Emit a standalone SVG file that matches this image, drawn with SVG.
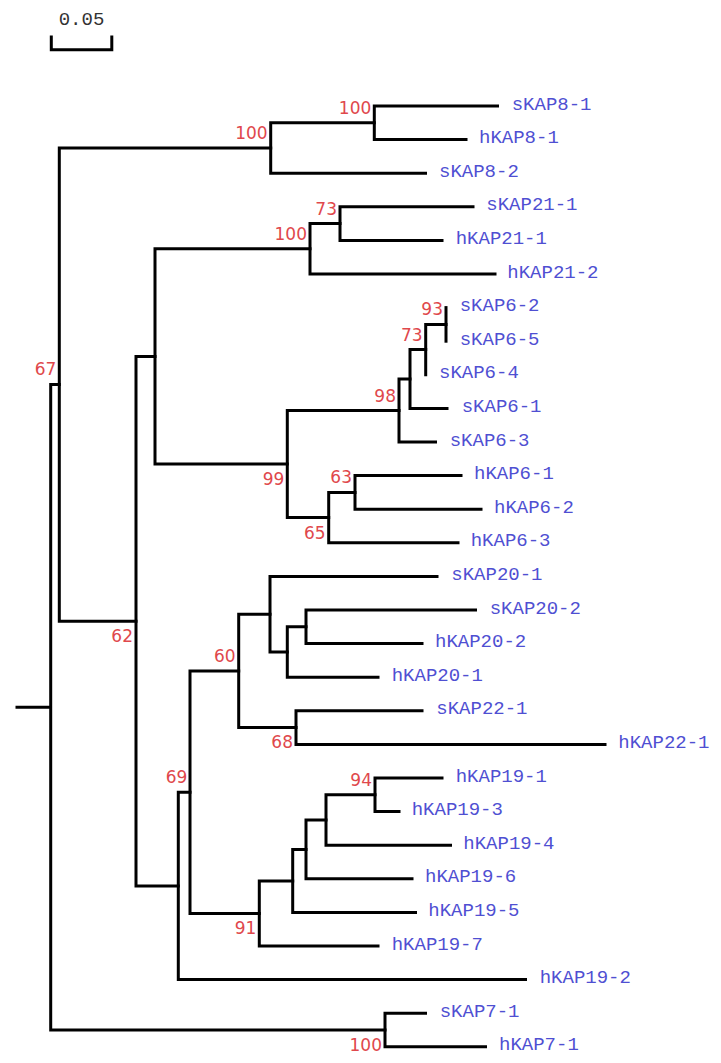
<svg xmlns="http://www.w3.org/2000/svg" width="721" height="1063" viewBox="0 0 721 1063">
<style>
.br{fill:none;stroke:#000;stroke-width:3;stroke-linecap:square;stroke-linejoin:miter}
.leaf{font-family:"Liberation Mono","Courier New",monospace;font-size:19px;fill:#4f4fd2}
.bs{font-family:"DejaVu Sans","Liberation Sans",sans-serif;font-size:17px;fill:#e0484c;text-anchor:end}
.scale{font-family:"Liberation Mono","Courier New",monospace;font-size:19px;fill:#333;text-anchor:middle}
</style>
<rect width="721" height="1063" fill="#fff"/>
<g id="scalebar">
<path class="br" d="M51.3 37V49.7H111.8V37"/>
<text class="scale" x="81.5" y="25">0.05</text>
</g>
<g id="connectors">
<path class="br" d="M17 707.3H50.7M59.3 384.6H50.7V1030H385"/>
<path class="br" d="M270.7 148H59.3V621.15H136"/>
<path class="br" d="M374.3 122.8H270.7V173.2H425.5"/>
<path class="br" d="M497.5 106H374.3V139.6H466"/>
<path class="br" d="M155 356.4H136V885.9H178.3"/>
<path class="br" d="M310 248.8H155V464.05H287.3"/>
<path class="br" d="M340 223.6H310V274H495"/>
<path class="br" d="M473 206.8H340V240.4H442"/>
<path class="br" d="M399 410.5H287.3V517.6H328.7"/>
<path class="br" d="M410 379H399V442H435.5"/>
<path class="br" d="M425.7 349.6H410V408.4H447"/>
<path class="br" d="M446 324.4H425.7V374.8"/>
<path class="br" d="M446 307.6V341.2"/>
<path class="br" d="M355 492.4H328.7V542.8H458"/>
<path class="br" d="M461 475.6H355V509.2H481"/>
<path class="br" d="M190 792.2H178.3V979.6H525.5"/>
<path class="br" d="M238.7 670.9H190V913.45H259.3"/>
<path class="br" d="M270 614.2H238.7V727.6H296"/>
<path class="br" d="M437 576.4H270V652H287.3"/>
<path class="br" d="M306 626.8H287.3V677.2H378"/>
<path class="br" d="M475.5 610H306V643.6H422"/>
<path class="br" d="M422 710.8H296V744.4H605"/>
<path class="br" d="M292.7 880.9H259.3V946H378"/>
<path class="br" d="M306 849.4H292.7V912.4H415.5"/>
<path class="br" d="M326 820H306V878.8H412"/>
<path class="br" d="M375 794.8H326V845.2H450.5"/>
<path class="br" d="M442 778H375V811.6H399"/>
<path class="br" d="M425.5 1013.2H385V1046.8H485.5"/>
</g>
<g id="leaf-sKAP8-1"><text class="leaf" x="511.7" y="109.5">sKAP8-1</text></g>
<g id="leaf-hKAP8-1"><text class="leaf" x="479" y="143.1">hKAP8-1</text></g>
<g id="leaf-sKAP8-2"><text class="leaf" x="439" y="176.7">sKAP8-2</text></g>
<g id="leaf-sKAP21-1"><text class="leaf" x="486.3" y="210.3">sKAP21-1</text></g>
<g id="leaf-hKAP21-1"><text class="leaf" x="455.7" y="243.9">hKAP21-1</text></g>
<g id="leaf-hKAP21-2"><text class="leaf" x="507.3" y="277.5">hKAP21-2</text></g>
<g id="leaf-sKAP6-2"><text class="leaf" x="459.7" y="311.1">sKAP6-2</text></g>
<g id="leaf-sKAP6-5"><text class="leaf" x="459.7" y="344.7">sKAP6-5</text></g>
<g id="leaf-sKAP6-4"><text class="leaf" x="439" y="378.3">sKAP6-4</text></g>
<g id="leaf-sKAP6-1"><text class="leaf" x="461.7" y="411.9">sKAP6-1</text></g>
<g id="leaf-sKAP6-3"><text class="leaf" x="449.7" y="445.5">sKAP6-3</text></g>
<g id="leaf-hKAP6-1"><text class="leaf" x="474" y="479.1">hKAP6-1</text></g>
<g id="leaf-hKAP6-2"><text class="leaf" x="494" y="512.7">hKAP6-2</text></g>
<g id="leaf-hKAP6-3"><text class="leaf" x="470.7" y="546.3">hKAP6-3</text></g>
<g id="leaf-sKAP20-1"><text class="leaf" x="451.3" y="579.9">sKAP20-1</text></g>
<g id="leaf-sKAP20-2"><text class="leaf" x="489.7" y="613.5">sKAP20-2</text></g>
<g id="leaf-hKAP20-2"><text class="leaf" x="435" y="647.1">hKAP20-2</text></g>
<g id="leaf-hKAP20-1"><text class="leaf" x="391.7" y="680.7">hKAP20-1</text></g>
<g id="leaf-sKAP22-1"><text class="leaf" x="436.3" y="714.3">sKAP22-1</text></g>
<g id="leaf-hKAP22-1"><text class="leaf" x="618.3" y="747.9">hKAP22-1</text></g>
<g id="leaf-hKAP19-1"><text class="leaf" x="455.7" y="781.5">hKAP19-1</text></g>
<g id="leaf-hKAP19-3"><text class="leaf" x="411.7" y="815.1">hKAP19-3</text></g>
<g id="leaf-hKAP19-4"><text class="leaf" x="463.3" y="848.7">hKAP19-4</text></g>
<g id="leaf-hKAP19-6"><text class="leaf" x="425" y="882.3">hKAP19-6</text></g>
<g id="leaf-hKAP19-5"><text class="leaf" x="428.3" y="915.9">hKAP19-5</text></g>
<g id="leaf-hKAP19-7"><text class="leaf" x="391.7" y="949.5">hKAP19-7</text></g>
<g id="leaf-hKAP19-2"><text class="leaf" x="539.7" y="983.1">hKAP19-2</text></g>
<g id="leaf-sKAP7-1"><text class="leaf" x="439.7" y="1016.7">sKAP7-1</text></g>
<g id="leaf-hKAP7-1"><text class="leaf" x="499" y="1050.3">hKAP7-1</text></g>
<g id="node-kap8a"><text class="bs" x="371.3" y="113.8">100</text></g>
<g id="node-kap8"><text class="bs" x="267.7" y="139">100</text></g>
<g id="node-kap21a"><text class="bs" x="337" y="214.6">73</text></g>
<g id="node-kap21"><text class="bs" x="307" y="239.8">100</text></g>
<g id="node-n67"><text class="bs" x="56.3" y="374.5">67</text></g>
<g id="node-n93"><text class="bs" x="443" y="315">93</text></g>
<g id="node-n73"><text class="bs" x="422.7" y="340.6">73</text></g>
<g id="node-n98"><text class="bs" x="396" y="401.5">98</text></g>
<g id="node-n99"><text class="bs" x="284.3" y="484.5">99</text></g>
<g id="node-n63"><text class="bs" x="352" y="483.4">63</text></g>
<g id="node-n65"><text class="bs" x="325.7" y="538.6">65</text></g>
<g id="node-n62"><text class="bs" x="133" y="641.6">62</text></g>
<g id="node-n60"><text class="bs" x="235.7" y="661.9">60</text></g>
<g id="node-n68"><text class="bs" x="293" y="748">68</text></g>
<g id="node-n69"><text class="bs" x="187.3" y="782.7">69</text></g>
<g id="node-n94"><text class="bs" x="372" y="786">94</text></g>
<g id="node-n91"><text class="bs" x="256.3" y="933.5">91</text></g>
<g id="node-kap7"><text class="bs" x="382" y="1050.5">100</text></g>
</svg>
